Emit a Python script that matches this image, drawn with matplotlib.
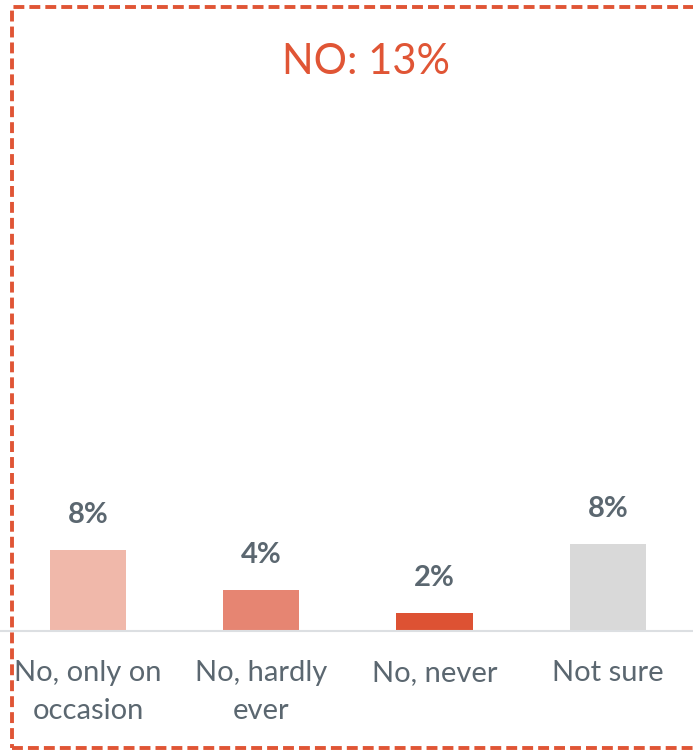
import matplotlib
matplotlib.use('Agg')
import matplotlib.pyplot as plt
from matplotlib.patches import Rectangle

# Survey breakdown of the "No" answers
categories = ['No, only on\noccasion', 'No, hardly\never', 'No, never', 'Not sure']
values = [7.7, 3.9, 1.7, 8.3]
bar_colors = ['#F0B8AA', '#E68572', '#DD5233', '#D9D9D9']
title = 'NO: 13%'

TEXT_GRAY = '#5B6770'
ACCENT = '#E05535'

plt.rcParams['font.family'] = ['Lato', 'DejaVu Sans']

W, H = 693, 752
fig = plt.figure(figsize=(W / 100, H / 100), dpi=100)

# axes placed in pixel units, baseline at y=631
ax = fig.add_axes([0, (H - 631) / H, 1, 500 / H])
x = list(range(len(categories)))
ax.bar(x, values, width=0.44, color=bar_colors, zorder=2)
ax.set_xlim(-88 / 173.3, (W - 88) / 173.3)
ax.set_ylim(0, 500 / 10.5)

for xi, v in zip(x, values):
    ax.annotate(f'{v:.0f}%', xy=(xi, v), xytext=(0, 16), textcoords='offset points',
                ha='center', va='bottom', fontsize=21, fontweight='bold', color=TEXT_GRAY)

ax.set_xticks(x)
ax.set_xticklabels(categories, fontsize=21, color=TEXT_GRAY, linespacing=1.55)
ax.tick_params(axis='x', length=0, pad=21)
ax.set_yticks([])
for side in ['top', 'right', 'left']:
    ax.spines[side].set_visible(False)
ax.spines['bottom'].set_color('#DCDFE2')
ax.spines['bottom'].set_linewidth(1.5)
ax.patch.set_alpha(0)

fig.text(366 / W, 1 - 62 / H, title, ha='center', va='center', fontsize=30, color=ACCENT)

# dashed frame, right edge runs off the canvas
frame = Rectangle((12 / W, 4 / H), 1.2, (748 - 7) / H, transform=fig.transFigure,
                  fill=False, edgecolor=ACCENT, linewidth=2.8, linestyle=(0, (2.8, 1.3)),
                  clip_on=False)
fig.patches.append(frame)

fig.savefig('out.png', dpi=100)
